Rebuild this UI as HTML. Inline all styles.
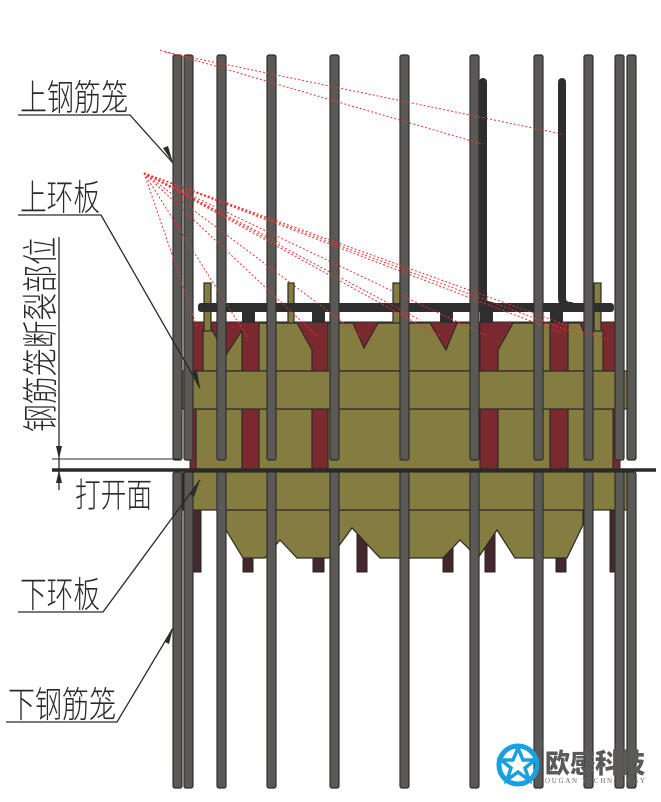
<!DOCTYPE html>
<html><head><meta charset="utf-8"><style>
html,body{margin:0;padding:0;background:#fff;}
svg{display:block}
text{font-family:"Liberation Sans","Noto Sans CJK SC",sans-serif;font-weight:300;fill:#2a2a2a}
</style></head><body>
<svg width="661" height="802" viewBox="0 0 661 802" xmlns="http://www.w3.org/2000/svg">
<rect x="190" y="322" width="430" height="150" fill="#7a2a2f" stroke="#2a2a2a" stroke-width="1"/>
<g fill="#857c40" stroke="#2a2a2a" stroke-width="1.2">
<polygon points="203,371 203,330 212,330 226,355 242,330 242,371"/>
<polygon points="259,323 297,323 312,350 312,371 259,371"/>
<polygon points="328,323 353,323 364,348 378,323 430,323 446,350 457,323 480,323 480,371 328,371"/>
<polygon points="498,350 513,323 550,323 550,371 498,371"/>
<polygon points="568,323 580,323 590,345 592,330 603,330 603,371 568,371"/>
<rect x="196" y="409" width="46" height="62"/>
<rect x="259" y="409" width="53" height="62"/>
<rect x="328" y="409" width="152" height="62"/>
<rect x="498" y="409" width="52" height="62"/>
<rect x="568" y="409" width="45" height="62"/>
<rect x="204" y="283" width="7" height="48"/>
<rect x="288" y="283" width="6" height="40"/>
<rect x="393" y="283" width="7" height="40"/>
<rect x="594" y="283" width="7" height="48"/>
<rect x="182" y="371" width="446" height="38"/>
</g>
<rect x="198" y="303" width="416" height="9" rx="3" fill="#2e2e2e"/>
<g fill="#2e2e2e">
<rect x="242" y="311" width="13" height="12"/><rect x="312" y="311" width="13" height="12"/>
<rect x="440" y="311" width="13" height="12"/><rect x="480" y="311" width="13" height="12"/>
<rect x="550" y="311" width="13" height="12"/>
</g>
<g fill="#45282b" stroke="#222" stroke-width="1">
<rect x="193" y="505" width="8" height="67"/><rect x="243" y="505" width="10" height="67"/>
<rect x="313" y="505" width="11" height="67"/><rect x="357" y="505" width="10" height="67"/>
<rect x="443" y="505" width="10" height="67"/><rect x="485" y="505" width="10" height="67"/>
<rect x="556" y="505" width="10" height="67"/><rect x="610" y="505" width="7" height="67"/>
</g>
<g fill="#857c40" stroke="#2a2a2a" stroke-width="1.2">
<polygon points="226,510 583,510 583,525 567,558 515,558 497,530 478,558 460,540 443,558 380,558 352,528 330,558 297,558 280,540 265,558 243,558 226,530"/>
<rect x="183" y="472" width="445" height="38"/>
</g>
<path d="M483,82 V298 Q483,306 492,306" stroke="#2e2e2e" stroke-width="8" fill="none" stroke-linecap="round"/>
<path d="M562,82 V298 Q562,306 571,306" stroke="#2e2e2e" stroke-width="8" fill="none" stroke-linecap="round"/>
<g fill="#5b5955" stroke="#2f2f2f" stroke-width="1.2">
<rect x="173" y="55" width="9" height="405" rx="2"/><rect x="184" y="55" width="9" height="405" rx="2"/>
<rect x="217" y="55" width="9" height="405" rx="2"/><rect x="267" y="55" width="9" height="405" rx="2"/>
<rect x="330" y="55" width="9" height="405" rx="2"/><rect x="400" y="55" width="9" height="405" rx="2"/>
<rect x="470" y="55" width="9" height="405" rx="2"/><rect x="534" y="55" width="9" height="405" rx="2"/>
<rect x="584" y="55" width="9" height="405" rx="2"/><rect x="615" y="55" width="9" height="405" rx="2"/>
<rect x="627" y="55" width="9" height="405" rx="2"/>
<rect x="173" y="472" width="9" height="316" rx="2"/><rect x="184" y="472" width="9" height="316" rx="2"/>
<rect x="217" y="472" width="9" height="316" rx="2"/><rect x="267" y="472" width="9" height="316" rx="2"/>
<rect x="330" y="472" width="9" height="316" rx="2"/><rect x="400" y="472" width="9" height="316" rx="2"/>
<rect x="470" y="472" width="9" height="316" rx="2"/><rect x="534" y="472" width="9" height="316" rx="2"/>
<rect x="584" y="472" width="9" height="316" rx="2"/><rect x="615" y="472" width="9" height="316" rx="2"/>
<rect x="627" y="472" width="9" height="316" rx="2"/>
</g>
<line x1="52" y1="470" x2="656" y2="470" stroke="#2a2a2a" stroke-width="3.5"/>
<line x1="52" y1="459" x2="180" y2="459" stroke="#2a2a2a" stroke-width="1"/>
<g stroke="#f03030" stroke-width="1" stroke-dasharray="2,2" fill="none">
<line x1="160" y1="50" x2="482" y2="144"/><line x1="165" y1="52" x2="562" y2="134"/>
<line x1="144" y1="173" x2="197" y2="327"/><line x1="144" y1="173" x2="248" y2="338"/>
<line x1="144" y1="173" x2="318" y2="337"/><line x1="144" y1="173" x2="360" y2="335"/>
<line x1="144" y1="173" x2="440" y2="336"/><line x1="144" y1="173" x2="485" y2="335"/>
<line x1="144" y1="173" x2="562" y2="333"/><line x1="144" y1="173" x2="580" y2="335"/>
<line x1="144" y1="173" x2="608" y2="340"/><line x1="144" y1="173" x2="280" y2="243"/>
<line x1="144" y1="173" x2="420" y2="320"/>
</g>
<g stroke="#2a2a2a" stroke-width="1.3" fill="none">
<polyline points="18,115 130,115 173,163"/>
<polyline points="18,215 101,215 200,388"/>
<polyline points="18,612 103,612 200,480"/>
<polyline points="6,722 117,722 173,628"/>
<line x1="59" y1="237" x2="59" y2="490"/>
</g>
<g fill="#2a2a2a">
<polygon points="173,163 163,148 168,146"/>
<polygon points="200,388 192,372 197,371"/>
<polygon points="200,480 190,494 194,497"/>
<polygon points="173,628 165,642 169,644"/>
<polygon points="59,459 56,446 62,446"/><polygon points="59,470 56,483 62,483"/>
</g>
<text x="20" y="110" font-size="36" textLength="108" lengthAdjust="spacingAndGlyphs">上钢筋笼</text>
<text x="20" y="210" font-size="36" textLength="80" lengthAdjust="spacingAndGlyphs">上环板</text>
<text transform="translate(53,432) rotate(-90)" font-size="36" textLength="195" lengthAdjust="spacingAndGlyphs">钢筋笼断裂部位</text>
<text x="75" y="507" font-size="34" textLength="77" lengthAdjust="spacingAndGlyphs">打开面</text>
<text x="20" y="607" font-size="36" textLength="80" lengthAdjust="spacingAndGlyphs">下环板</text>
<text x="8" y="717" font-size="36" textLength="108" lengthAdjust="spacingAndGlyphs">下钢筋笼</text>
<g stroke="#1aa0e0" stroke-width="5" fill="none">
<circle cx="518" cy="765" r="19"/>
<polygon points="518,748 523,760 535,760 525,768 529,780 518,772 507,780 511,768 501,760 513,760" stroke-width="3.5"/>
</g>
<circle cx="540" cy="744" r="2.5" fill="none" stroke="#666" stroke-width="0.8"/>
<text x="545" y="773" font-size="27" style="font-family:'Noto Sans CJK SC',sans-serif;font-weight:900;fill:#5a5a5a" textLength="100" lengthAdjust="spacingAndGlyphs">欧感科技</text>
<text x="545" y="783" font-size="7" style="font-family:'Liberation Serif',serif;fill:#666" textLength="100">OUGAN TECHNOLOGY</text>
</svg>
</body></html>
